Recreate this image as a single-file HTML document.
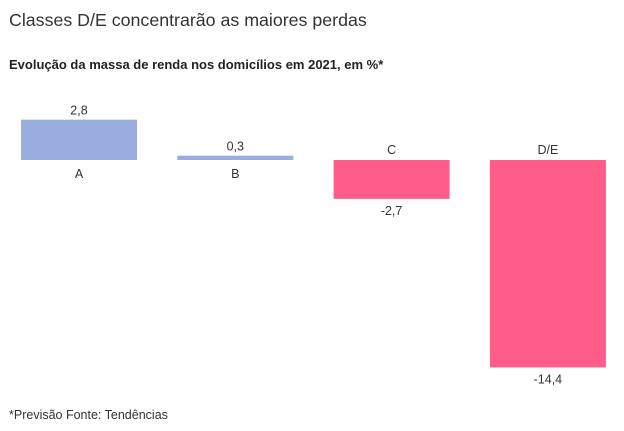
<!DOCTYPE html>
<html><head><meta charset="utf-8"><style>
body{margin:0;background:#fff;font-family:"Liberation Sans",sans-serif;color:#333;}
#wrap{position:relative;width:624px;height:431px;overflow:hidden;}
.t{position:absolute;white-space:nowrap;}
</style></head><body>
<div id="wrap">
<div class="t" style="left:9px;top:10px;font-size:17.8px;color:#333;">Classes D/E concentrarão as maiores perdas</div>
<div class="t" style="left:9px;top:57px;font-size:13px;font-weight:bold;color:#222;">Evolução da massa de renda nos domicílios em 2021, em %*</div>
<svg id="plot" width="624" height="431" style="position:absolute;left:0;top:0"></svg>
<div class="t" style="left:9px;top:408px;font-size:12.5px;color:#333;">*Previsão Fonte: Tendências</div>
</div>
<script>
const categories=["A","B","C","D/E"];
const values=[2.8,0.3,-2.7,-14.4];
const valueLabels=["2,8","0,3","-2,7","-14,4"];
const ns="http://www.w3.org/2000/svg";
const svg=document.getElementById('plot');
const zeroY=160, pxPerUnit=14.4, x0=21, step=156.3, bw=116;
function y(v){return zeroY-v*pxPerUnit;}
function x(i){return x0+i*step;}
categories.forEach((c,i)=>{
  const v=values[i];
  const r=document.createElementNS(ns,'rect');
  
  
  r.setAttribute('x',x(i));r.setAttribute('width',bw);
  r.setAttribute('y',Math.min(y(v),zeroY));r.setAttribute('height',Math.abs(y(v)-zeroY));
  r.setAttribute('fill',v>=0?'#9aaddf':'#ff5c89');
  svg.appendChild(r);
  const cx=x(i)+bw/2;
  const vl=document.createElementNS(ns,'text');
  
  
  vl.setAttribute('x',cx);vl.setAttribute('text-anchor','middle');
  vl.setAttribute('font-size','12.5');vl.setAttribute('fill','#333');
  vl.setAttribute('font-family','Liberation Sans, sans-serif');
  const cl=document.createElementNS(ns,'text');
  
  
  cl.setAttribute('x',cx);cl.setAttribute('text-anchor','middle');
  cl.setAttribute('font-size','12.5');cl.setAttribute('fill','#333');
  cl.setAttribute('font-family','Liberation Sans, sans-serif');
  if(v>=0){vl.setAttribute('y',y(v)-5);cl.setAttribute('y',zeroY+18);}
  else{vl.setAttribute('y',y(v)+16);cl.setAttribute('y',zeroY-6);}
  vl.textContent=valueLabels[i];cl.textContent=c;
  svg.appendChild(vl);svg.appendChild(cl);
});
</script>
</body></html>
